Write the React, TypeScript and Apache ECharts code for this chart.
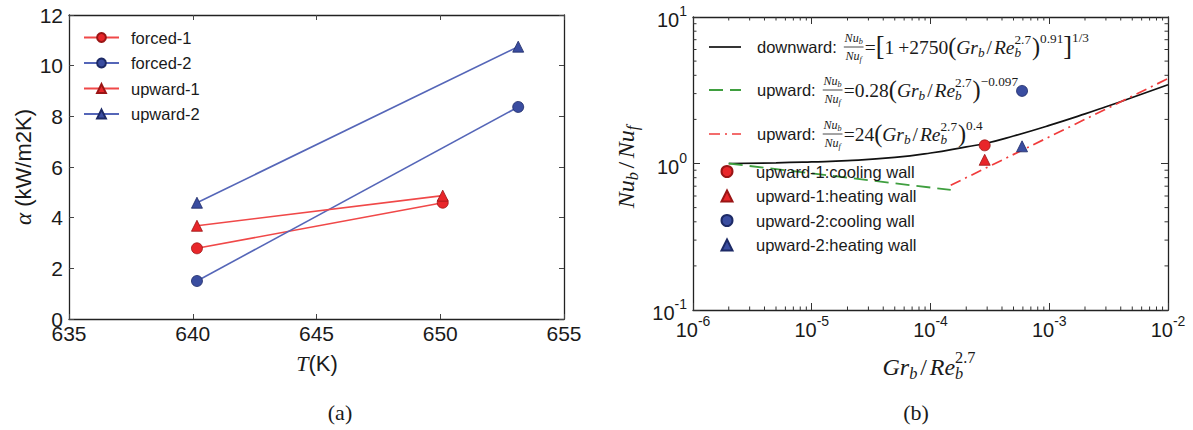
import React, { useEffect, useRef } from "react";
import * as echarts from "echarts";

// ---------- panel (a) data ----------
const tempSet1 = [640.17, 650.1];
const tempSet2 = [640.17, 653.15];
const forced1 = [2.79, 4.59];
const forced2 = [1.5, 8.37];
const upward1 = [3.68, 4.87];
const upward2 = [4.59, 10.75];
const panelANames = ["forced-1", "forced-2", "upward-1", "upward-2"];

// ---------- panel (b) data ----------
const downX = [2e-6, 5e-6, 1e-5, 2e-5, 5e-5, 1e-4, 2e-4, 3e-4, 5e-4, 1e-3, 2e-3, 3e-3, 5e-3, 1e-2];
const downY = [1.0, 1.01, 1.025, 1.045, 1.1, 1.18, 1.3, 1.38, 1.54, 1.82, 2.18, 2.44, 2.82, 3.45];
const dashX = [2e-6, 1.48e-4];
const dashY = [1.0, 0.66];
const dotX = [1.48e-4, 1e-2];
const dotY = [0.71, 3.8];
const pointNames = [
  "upward-1:cooling wall",
  "upward-1:heating wall",
  "upward-2:cooling wall",
  "upward-2:heating wall",
];
const pointX = [2.86e-4, 2.86e-4, 5.9e-4, 5.9e-4];
const pointY = [1.33, 1.06, 3.13, 1.31];

// axis ticks
const minorMantissas = [2, 3, 4, 5, 6, 7, 8, 9];
const xDecades = [-6, -5, -4, -3];
const yDecades = [-1, 0];

const SERIF = "'Liberation Serif', 'DejaVu Serif', serif";
const SANS = "'Liberation Sans', Arial, sans-serif";
const INK = "#1a1a1a";
const RED = "#e8262a";
const RED_LINE = "#f04848";
const BLUE = "#3a4da0";
const BLUE_LINE = "#5566b8";
const MATH = 19.5;
const LABEL = 16.5;

type Tok = {
  s?: string;
  it?: boolean;
  sans?: boolean;
  sc?: number;
  pos?: "sub" | "sup";
  stack?: boolean;
  dy?: number;
  gap?: number;
  frac?: [Tok[], Tok[]];
};

let mctx: CanvasRenderingContext2D | null = null;
function textWidth(s: string, size: number, it: boolean, sans: boolean) {
  if (!mctx) mctx = document.createElement("canvas").getContext("2d");
  mctx!.font = `${it ? "italic " : ""}${size}px ${sans ? SANS : SERIF}`;
  return mctx!.measureText(s).width;
}

function layout(toks: Tok[], base: number, color: string): { els: any[]; w: number } {
  const els: any[] = [];
  let x = 0;
  let held = 0;
  for (const t of toks) {
    if (t.gap !== undefined) {
      x += t.gap * base;
      continue;
    }
    if (t.frac) {
      const fs = base * 0.62;
      const n = layout(t.frac[0], fs, color);
      const d = layout(t.frac[1], fs, color);
      const w = Math.max(n.w, d.w) + 0.2 * base;
      els.push({ type: "group", x: x + (w - n.w) / 2, y: -0.45 * base, children: n.els });
      els.push({ type: "group", x: x + (w - d.w) / 2, y: 0.45 * base, children: d.els });
      els.push({
        type: "line",
        silent: true,
        shape: { x1: x + 0.06 * base, y1: 0, x2: x + w - 0.06 * base, y2: 0 },
        style: { stroke: color, lineWidth: 0.8 },
      });
      x += w;
      continue;
    }
    const size = base * (t.sc ?? (t.pos ? 0.68 : 1));
    let y = (t.dy ?? 0) * base;
    if (t.pos === "sub") y += 0.27 * base;
    if (t.pos === "sup") y -= 0.33 * base;
    const w = textWidth(t.s!, size, !!t.it, !!t.sans);
    els.push({
      type: "text",
      x,
      y,
      silent: true,
      style: {
        text: t.s,
        fontSize: size,
        fontFamily: t.sans ? SANS : SERIF,
        fontStyle: t.it ? "italic" : "normal",
        fill: color,
        align: "left",
        verticalAlign: "middle",
        textAlign: "left",
        textVerticalAlign: "middle",
      },
    });
    if (t.stack) held = Math.max(held, w);
    else {
      x += Math.max(w, held);
      held = 0;
    }
  }
  return { els, w: x };
}

const NU_FRAC: Tok = {
  frac: [
    [{ s: "Nu", it: true }, { s: "b", it: true, pos: "sub" }],
    [{ s: "Nu", it: true }, { s: "f", it: true, pos: "sub" }],
  ],
};
const GR_RE: Tok[] = [
  { s: "(", sc: 1.25, dy: -0.04 },
  { s: "Gr", it: true },
  { s: "b", it: true, pos: "sub" },
  { gap: 0.1 },
  { s: "/" },
  { gap: 0.1 },
  { s: "Re", it: true },
  { s: "b", it: true, pos: "sub", stack: true },
  { s: "2.7", pos: "sup", dy: -0.05 },
  { gap: 0.05 },
  { s: ")", sc: 1.25, dy: -0.04 },
];

const downTok: Tok[] = [
  { s: "downward:", sans: true, sc: LABEL / MATH },
  { gap: 0.3 },
  NU_FRAC,
  { s: "=" },
  { s: "[", sc: 1.35, dy: -0.04 },
  { s: "1" },
  { gap: 0.2 },
  { s: "+" },
  { s: "2750" },
  ...GR_RE,
  { s: "0.91", pos: "sup", dy: -0.12 },
  { s: "]", sc: 1.35, dy: -0.04 },
  { s: "1/3", pos: "sup", dy: -0.14 },
];
const dashTok: Tok[] = [
  { s: "upward:", sans: true, sc: LABEL / MATH },
  { gap: 0.3 },
  NU_FRAC,
  { s: "=" },
  { s: "0.28" },
  ...GR_RE,
  { s: "\u22120.097", pos: "sup", dy: -0.12 },
];
const dotTok: Tok[] = [
  { s: "upward:", sans: true, sc: LABEL / MATH },
  { gap: 0.3 },
  NU_FRAC,
  { s: "=" },
  { s: "24" },
  ...GR_RE,
  { s: "0.4", pos: "sup", dy: -0.12 },
];
const yNameB: Tok[] = [
  { s: "Nu", it: true },
  { s: "b", it: true, pos: "sub" },
  { gap: 0.15 },
  { s: "/" },
  { gap: 0.15 },
  { s: "Nu", it: true },
  { s: "f", it: true, pos: "sub" },
];
const xNameB: Tok[] = [
  { s: "Gr", it: true },
  { s: "b", it: true, pos: "sub" },
  { gap: 0.12 },
  { s: "/" },
  { gap: 0.12 },
  { s: "Re", it: true },
  { s: "b", it: true, pos: "sub", stack: true },
  { s: "2.7", pos: "sup", dy: -0.05 },
];
const yNameA: Tok[] = [
  { s: "\u03b1", it: true, sc: 1.05 },
  { s: " (kW/m2K)", sans: true },
];
const xNameA: Tok[] = [{ s: "T", it: true }, { s: "(K)", sans: true }];

function centered(toks: Tok[], base: number, cx: number, cy: number, rotate = false) {
  const r = layout(toks, base, INK);
  if (rotate) {
    return {
      type: "group",
      x: cx,
      y: cy,
      rotation: Math.PI / 2,
      children: [{ type: "group", x: -r.w / 2, y: 0, children: r.els }],
    };
  }
  return { type: "group", x: cx - r.w / 2, y: cy, children: r.els };
}

function row(toks: Tok[], base: number, x: number, y: number) {
  const r = layout(toks, base, INK);
  return { type: "group", x, y, children: r.els };
}

const axisLineStyle = { show: true, onZero: false, lineStyle: { color: "#222", width: 1.3 } };

function logLabel(v: number) {
  const e = Math.round(Math.log10(v));
  return `{b|10}{s|${e}}`;
}
const logRich = {
  b: { fontSize: 20, fontFamily: SANS, color: INK, lineHeight: 26, verticalAlign: "bottom" },
  s: { fontSize: 14, fontFamily: SANS, color: INK, lineHeight: 14, verticalAlign: "top" },
};

export default function App() {
  const ref = useRef<HTMLDivElement>(null);

  useEffect(() => {
    if (!ref.current) return;
    const chart = echarts.init(ref.current, undefined, { renderer: "svg" });

    const minorData: any[] = [];
    xDecades.forEach((d) =>
      minorMantissas.forEach((m) => minorData.push([m * Math.pow(10, d), 1, 0]))
    );
    yDecades.forEach((d) =>
      minorMantissas.forEach((m) => minorData.push([1e-4, m * Math.pow(10, d), 1]))
    );

    const lineA = (
      name: string,
      xs: number[],
      ys: number[],
      lc: string,
      mc: string,
      edge: string,
      sym: string
    ) => ({
      type: "line",
      name,
      xAxisIndex: 0,
      yAxisIndex: 0,
      data: xs.map((x, i) => [x, ys[i]]),
      symbol: sym,
      symbolSize: 11,
      showSymbol: true,
      lineStyle: { color: lc, width: 1.6 },
      itemStyle: { color: mc, borderColor: edge, borderWidth: 0.8, opacity: 1 },
      z: 3,
    });

    const option: any = {
      animation: false,
      backgroundColor: "#fff",
      grid: [
        { left: 69, top: 15, width: 495, height: 304 },
        { left: 693, top: 17, width: 475, height: 293 },
      ],
      xAxis: [
        {
          type: "value",
          gridIndex: 0,
          min: 635,
          max: 655,
          interval: 5,
          axisLine: axisLineStyle,
          axisTick: { inside: true, length: 5, lineStyle: { color: "#444" } },
          axisLabel: { fontSize: 21, fontFamily: SANS, color: INK, margin: 4 },
          splitLine: { show: false },
        },
        {
          type: "value",
          gridIndex: 0,
          position: "top",
          min: 635,
          max: 655,
          interval: 5,
          axisLine: axisLineStyle,
          axisTick: { inside: true, length: 5, lineStyle: { color: "#444" } },
          axisLabel: { show: false },
          splitLine: { show: false },
        },
        {
          type: "log",
          logBase: 10,
          gridIndex: 1,
          min: 1e-6,
          max: 1e-2,
          axisLine: axisLineStyle,
          axisTick: { inside: true, length: 7, lineStyle: { color: "#333" } },
          axisLabel: {
            formatter: logLabel,
            rich: logRich,
            margin: 4,
            showMinLabel: true,
            showMaxLabel: true,
          },
          splitLine: { show: false },
        },
        {
          type: "log",
          logBase: 10,
          gridIndex: 1,
          position: "top",
          min: 1e-6,
          max: 1e-2,
          axisLine: axisLineStyle,
          axisTick: { inside: true, length: 7, lineStyle: { color: "#333" } },
          axisLabel: { show: false },
          splitLine: { show: false },
        },
      ],
      yAxis: [
        {
          type: "value",
          gridIndex: 0,
          min: 0,
          max: 12,
          interval: 2,
          axisLine: axisLineStyle,
          axisTick: { inside: true, length: 5, lineStyle: { color: "#444" } },
          axisLabel: { fontSize: 21, fontFamily: SANS, color: INK, margin: 6 },
          splitLine: { show: false },
        },
        {
          type: "value",
          gridIndex: 0,
          position: "right",
          min: 0,
          max: 12,
          interval: 2,
          axisLine: axisLineStyle,
          axisTick: { inside: true, length: 5, lineStyle: { color: "#444" } },
          axisLabel: { show: false },
          splitLine: { show: false },
        },
        {
          type: "log",
          logBase: 10,
          gridIndex: 1,
          min: 0.1,
          max: 10,
          axisLine: axisLineStyle,
          axisTick: { inside: true, length: 7, lineStyle: { color: "#333" } },
          axisLabel: {
            formatter: logLabel,
            rich: logRich,
            margin: 6,
            showMinLabel: true,
            showMaxLabel: true,
          },
          splitLine: { show: false },
        },
        {
          type: "log",
          logBase: 10,
          gridIndex: 1,
          position: "right",
          min: 0.1,
          max: 10,
          axisLine: axisLineStyle,
          axisTick: { inside: true, length: 7, lineStyle: { color: "#333" } },
          axisLabel: { show: false },
          splitLine: { show: false },
        },
      ],
      legend: [
        {
          data: panelANames,
          left: 83,
          top: 29,
          padding: 0,
          orient: "vertical",
          itemWidth: 35,
          itemHeight: 11,
          itemGap: 8.5,
          selectedMode: false,
          textStyle: {
            fontSize: LABEL,
            fontFamily: SANS,
            color: INK,
            lineHeight: 16,
            padding: [0, 0, 0, 7],
          },
        },
        {
          data: pointNames,
          left: 720.5,
          top: 163,
          padding: 0,
          orient: "vertical",
          itemWidth: 11,
          itemHeight: 11,
          itemGap: 7.5,
          selectedMode: false,
          textStyle: {
            fontSize: LABEL,
            fontFamily: SANS,
            color: INK,
            lineHeight: 16,
            padding: [0, 0, 0, 18.5],
          },
        },
      ],
      series: [
        lineA(panelANames[0], tempSet1, forced1, RED_LINE, RED, "#9a1515", "circle"),
        lineA(panelANames[1], tempSet2, forced2, BLUE_LINE, BLUE, "#1d2a66", "circle"),
        lineA(panelANames[2], tempSet1, upward1, RED_LINE, RED, "#9a1515", "triangle"),
        lineA(panelANames[3], tempSet2, upward2, BLUE_LINE, BLUE, "#1d2a66", "triangle"),
        {
          type: "line",
          name: "downward",
          xAxisIndex: 2,
          yAxisIndex: 2,
          data: downX.map((x, i) => [x, downY[i]]),
          symbol: "none",
          smooth: true,
          lineStyle: { color: "#111", width: 1.7 },
          z: 3,
        },
        {
          type: "line",
          name: "upward-dash",
          xAxisIndex: 2,
          yAxisIndex: 2,
          data: dashX.map((x, i) => [x, dashY[i]]),
          symbol: "none",
          lineStyle: { color: "#3f9f3f", width: 1.8, type: [14, 7] },
          z: 3,
        },
        {
          type: "line",
          name: "upward-dashdot",
          xAxisIndex: 2,
          yAxisIndex: 2,
          data: dotX.map((x, i) => [x, dotY[i]]),
          symbol: "none",
          lineStyle: { color: "#f03c3c", width: 1.7, type: [11, 5, 2, 5] },
          z: 3,
        },
        ...pointNames.map((name, i) => ({
          type: "scatter",
          name,
          xAxisIndex: 2,
          yAxisIndex: 2,
          data: [[pointX[i], pointY[i]]],
          symbol: i % 2 === 0 ? "circle" : "triangle",
          symbolSize: 11,
          itemStyle: {
            color: i < 2 ? RED : BLUE,
            borderColor: i < 2 ? "#9a1515" : "#1d2a66",
            borderWidth: 0.8,
            opacity: 1,
          },
          z: 4,
        })),
        {
          type: "custom",
          name: "minor-ticks",
          xAxisIndex: 2,
          yAxisIndex: 2,
          silent: true,
          clip: false,
          data: minorData,
          z: 5,
          renderItem: (params: any, api: any) => {
            const cs = params.coordSys;
            const kind = api.value(2);
            const L = 3.5;
            const st = { stroke: "#333", lineWidth: 1 };
            if (kind === 0) {
              const x = api.coord([api.value(0), 1])[0];
              return {
                type: "group",
                children: [
                  { type: "line", shape: { x1: x, y1: cs.y + cs.height, x2: x, y2: cs.y + cs.height - L }, style: st },
                  { type: "line", shape: { x1: x, y1: cs.y, x2: x, y2: cs.y + L }, style: st },
                ],
              };
            }
            const y = api.coord([1e-4, api.value(1)])[1];
            return {
              type: "group",
              children: [
                { type: "line", shape: { x1: cs.x, y1: y, x2: cs.x + L, y2: y }, style: st },
                { type: "line", shape: { x1: cs.x + cs.width, y1: y, x2: cs.x + cs.width - L, y2: y }, style: st },
              ],
            };
          },
        },
      ],
      graphic: [
        centered(yNameA, 22, 23, 167, true),
        centered(xNameA, 22, 317, 363),
        centered(yNameB, 24, 626, 167, true),
        centered(xNameB, 24, 929, 367),
        {
          type: "text",
          x: 340,
          y: 412,
          style: {
            text: "(a)",
            fontSize: 22,
            fontFamily: SERIF,
            fill: INK,
            align: "center",
            verticalAlign: "middle",
            textAlign: "center",
            textVerticalAlign: "middle",
          },
        },
        {
          type: "text",
          x: 916,
          y: 412,
          style: {
            text: "(b)",
            fontSize: 22,
            fontFamily: SERIF,
            fill: INK,
            align: "center",
            verticalAlign: "middle",
            textAlign: "center",
            textVerticalAlign: "middle",
          },
        },
        // formula legend icons
        { type: "line", shape: { x1: 709, y1: 47, x2: 741, y2: 47 }, style: { stroke: "#111", lineWidth: 1.7 } },
        {
          type: "line",
          shape: { x1: 709, y1: 90, x2: 741, y2: 90 },
          style: { stroke: "#3f9f3f", lineWidth: 1.8, lineDash: [14, 7] },
        },
        {
          type: "line",
          shape: { x1: 709, y1: 134, x2: 741, y2: 134 },
          style: { stroke: "#f03c3c", lineWidth: 1.7, lineDash: [11, 5, 2, 5] },
        },
        row(downTok, MATH, 757, 47),
        row(dashTok, MATH, 757, 90),
        row(dotTok, MATH, 757, 134),
      ],
    };

    chart.setOption(option);
    return () => chart.dispose();
  }, []);

  return (
    <div
      ref={ref}
      style={{ position: "absolute", left: 0, top: 0, width: 1193, height: 430, background: "#fff" }}
    />
  );
}
